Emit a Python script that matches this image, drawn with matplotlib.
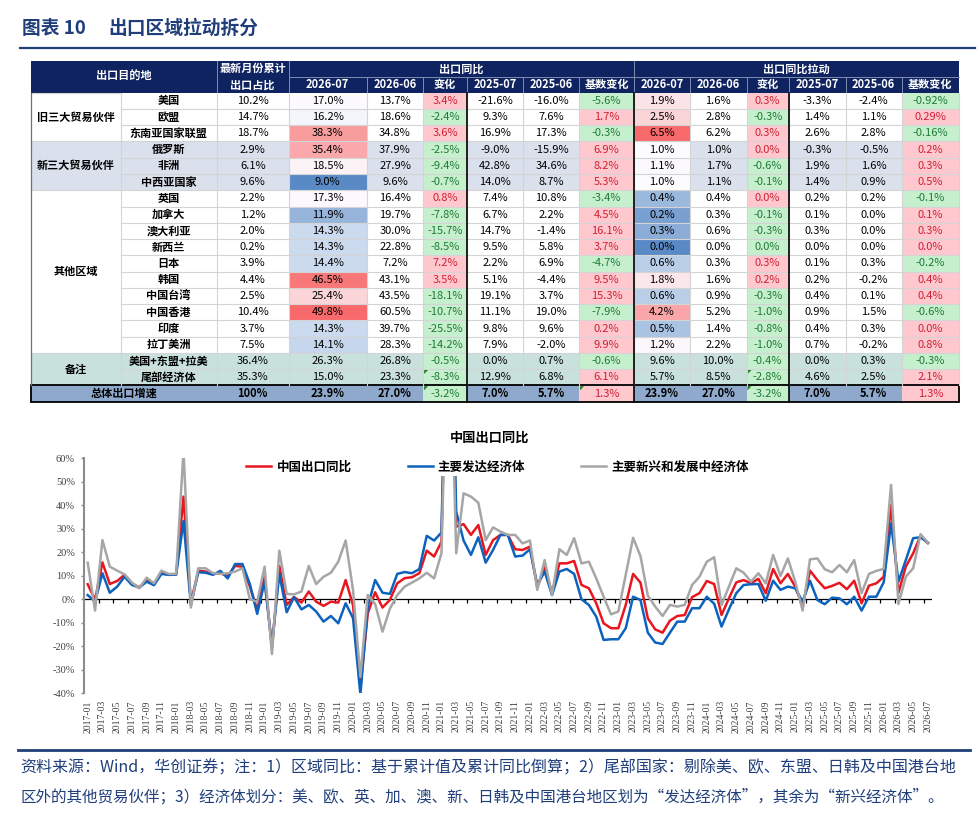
import numpy as np
import matplotlib.pyplot as plt
import matplotlib.colors as mcolors
from matplotlib.patches import Rectangle, Polygon

plt.rcParams['font.family'] = ['Noto Sans CJK SC', 'DejaVu Sans']
SERIF = ['Liberation Serif', 'Noto Sans CJK SC']

# ---------- 表格数据 ----------
group_names = ['旧三大贸易伙伴', '新三大贸易伙伴', '其他区域', '备注']
group_sizes = [3, 3, 10, 2]
countries = ['美国', '欧盟', '东南亚国家联盟', '俄罗斯', '非洲', '中西亚国家', '英国', '加拿大',
             '澳大利亚', '新西兰', '日本', '韩国', '中国台湾', '中国香港', '印度', '拉丁美洲',
             '美国+东盟+拉美', '尾部经济体']
share = ['10.2%', '14.7%', '18.7%', '2.9%', '6.1%', '9.6%', '2.2%', '1.2%', '2.0%', '0.2%',
         '3.9%', '4.4%', '2.5%', '10.4%', '3.7%', '7.5%', '36.4%', '35.3%']
yoy_2607 = ['17.0%', '16.2%', '38.3%', '35.4%', '18.5%', '9.0%', '17.3%', '11.9%', '14.3%', '14.3%',
            '14.4%', '46.5%', '25.4%', '49.8%', '14.3%', '14.1%', '26.3%', '15.0%']
yoy_2606 = ['13.7%', '18.6%', '34.8%', '37.9%', '27.9%', '9.6%', '16.4%', '19.7%', '30.0%', '22.8%',
            '7.2%', '43.1%', '43.5%', '60.5%', '39.7%', '28.3%', '26.8%', '23.3%']
yoy_chg = ['3.4%', '-2.4%', '3.6%', '-2.5%', '-9.4%', '-0.7%', '0.8%', '-7.8%', '-15.7%', '-8.5%',
           '7.2%', '3.5%', '-18.1%', '-10.7%', '-25.5%', '-14.2%', '-0.5%', '-8.3%']
yoy_2507 = ['-21.6%', '9.3%', '16.9%', '-9.0%', '42.8%', '14.0%', '7.4%', '6.7%', '14.7%', '9.5%',
            '2.2%', '5.1%', '19.1%', '11.1%', '9.8%', '7.9%', '0.0%', '12.9%']
yoy_2506 = ['-16.0%', '7.6%', '17.3%', '-15.9%', '34.6%', '8.7%', '10.8%', '2.2%', '-1.4%', '5.8%',
            '6.9%', '-4.4%', '3.7%', '19.0%', '9.6%', '-2.0%', '0.7%', '6.8%']
yoy_base = ['-5.6%', '1.7%', '-0.3%', '6.9%', '8.2%', '5.3%', '-3.4%', '4.5%', '16.1%', '3.7%',
            '-4.7%', '9.5%', '15.3%', '-7.9%', '0.2%', '9.9%', '-0.6%', '6.1%']
pull_2607 = ['1.9%', '2.5%', '6.5%', '1.0%', '1.1%', '1.0%', '0.4%', '0.2%', '0.3%', '0.0%',
             '0.6%', '1.8%', '0.6%', '4.2%', '0.5%', '1.2%', '9.6%', '5.7%']
pull_2606 = ['1.6%', '2.8%', '6.2%', '1.0%', '1.7%', '1.1%', '0.4%', '0.3%', '0.6%', '0.0%',
             '0.3%', '1.6%', '0.9%', '5.2%', '1.4%', '2.2%', '10.0%', '8.5%']
pull_chg = ['0.3%', '-0.3%', '0.3%', '0.0%', '-0.6%', '-0.1%', '0.0%', '-0.1%', '-0.3%', '0.0%',
            '0.3%', '0.2%', '-0.3%', '-1.0%', '-0.8%', '-1.0%', '-0.4%', '-2.8%']
pull_2507 = ['-3.3%', '1.4%', '2.6%', '-0.3%', '1.9%', '1.4%', '0.2%', '0.1%', '0.3%', '0.0%',
             '0.1%', '0.2%', '0.4%', '0.9%', '0.4%', '0.7%', '0.0%', '4.6%']
pull_2506 = ['-2.4%', '1.1%', '2.8%', '-0.5%', '1.6%', '0.9%', '0.2%', '0.0%', '0.0%', '0.0%',
             '0.3%', '-0.2%', '0.1%', '1.5%', '0.3%', '-0.2%', '0.3%', '2.5%']
pull_base = ['-0.92%', '0.29%', '-0.16%', '0.2%', '0.3%', '0.5%', '-0.1%', '0.1%', '0.3%', '0.0%',
             '-0.2%', '0.4%', '0.4%', '-0.6%', '0.0%', '0.8%', '-0.3%', '2.1%']
total_label = '总体出口增速'
total_vals = ['100%', '23.9%', '27.0%', '-3.2%', '7.0%', '5.7%', '1.3%',
              '23.9%', '27.0%', '-3.2%', '7.0%', '5.7%', '1.3%']
# 显示为0.0%但实际为负（绿色）的单元格
green_zero = [('新西兰', 11)]
# 左上角有绿色小三角的单元格 (行, 列)
flag_cells = [(17, 5), (17, 11), (18, 5), (18, 8), (18, 11)]

head_sub = ['2026-07', '2026-06', '变化', '2025-07', '2025-06', '基数变化']

# ---------- 折线数据 (%) ----------
months = [f'{y}-{m:02d}' for y in range(2017, 2027) for m in range(1, 13)][:115]
china_yoy = [6.4, -0.2, 15.7, 6.5, 7.8, 10.4, 6.8, 5.0, 8.2, 6.4, 11.3, 10.5,
             10.6, 43.7, -1.5, 12.2, 11.8, 10.8, 11.1, 9.9, 14.2, 13.9, 5.5, -4.5,
             9.6, -20.8, 14.2, -2.4, 1.0, -1.4, 3.3, -1.0, -2.8, -1.0, -1.4, 8.2,
             -2.5, -37.5, -6.0, 3.0, -3.5, -0.3, 6.8, 9.0, 9.4, 11.1, 20.7, 18.2,
             24.5, 155.0, 30.9, 32.0, 27.4, 31.6, 18.9, 25.2, 27.4, 27.4, 21.3, 21.0,
             22.4, 5.1, 13.6, 2.6, 15.3, 15.3, 16.3, 6.1, 4.7, -1.7, -10.2, -12.3,
             -12.3, -2.4, 10.8, 7.1, -8.1, -12.8, -14.2, -9.1, -7.1, -6.7, 0.9, 2.6,
             7.8, 6.5, -6.7, 0.4, 7.2, 8.2, 6.8, 8.7, 2.6, 12.9, 6.8, 10.8,
             5.4, -3.1, 12.2, 8.2, 4.7, 5.7, 7.0, 4.3, 7.9, -1.7, 5.8, 6.8,
             9.6, 40.1, 2.8, 13.9, 19.6, 27.0, 23.9]
developed_yoy = [1.8, -1.0, 11.1, 2.8, 5.4, 9.6, 6.1, 5.0, 7.5, 6.0, 10.8, 10.4,
                 10.5, 33.3, -2.5, 11.5, 11.3, 10.4, 12.1, 8.9, 15.0, 15.0, 6.5, -6.2,
                 7.5, -19.5, 10.8, -5.5, 0.9, -4.3, -2.4, -5.2, -9.5, -7.1, -10.2, -1.7,
                 -8.0, -40.5, -3.0, 8.2, 2.8, 2.3, 10.8, 11.6, 11.1, 12.9, 27.0, 25.0,
                 28.4, 165.0, 37.3, 25.0, 18.9, 26.4, 15.6, 21.0, 27.4, 27.4, 18.2, 18.6,
                 21.3, 6.1, 11.8, 1.8, 11.8, 12.9, 10.8, 0.0, -2.4, -7.4, -17.3, -17.0,
                 -17.0, -12.3, 1.1, -0.3, -14.2, -18.4, -19.0, -14.2, -9.5, -9.5, -3.8, -3.8,
                 1.1, -1.9, -11.6, -4.3, 2.6, 6.1, 6.4, 6.5, -0.6, 7.9, 4.0, 5.4,
                 4.7, -1.0, 7.9, -0.3, -2.1, 0.7, 0.4, -2.1, 1.1, -4.8, 1.1, 1.1,
                 7.2, 32.3, 7.5, 16.7, 26.0, 26.4, 24.1]
emerging_yoy = [15.6, -4.8, 25.2, 13.9, 12.2, 10.6, 7.1, 4.7, 9.2, 6.8, 12.2, 10.8,
                10.8, 63.0, -3.5, 13.2, 13.2, 11.1, 10.8, 11.1, 11.8, 13.2, 0.0, -1.0,
                13.9, -23.3, 20.7, 2.3, 2.1, 3.3, 14.2, 6.5, 9.6, 11.3, 16.0, 25.0,
                4.0, -33.0, 1.8, -2.0, -13.8, -4.0, 1.8, 5.4, 7.1, 8.9, 11.3, 8.9,
                19.6, 140.0, 19.6, 45.1, 43.7, 41.1, 25.2, 30.6, 28.8, 27.4, 27.4, 23.8,
                25.0, 4.0, 16.7, 1.8, 21.3, 18.9, 26.0, 15.3, 16.0, 8.9, 1.1, -6.4,
                -5.2, 10.4, 26.2, 18.4, 1.6, -3.1, -7.1, -2.4, -3.1, -2.4, 6.1, 9.6,
                16.0, 17.9, -2.4, 5.4, 13.2, 11.3, 7.5, 11.1, 6.8, 18.9, 9.9, 17.4,
                7.5, -4.8, 17.0, 17.4, 12.8, 11.5, 14.6, 11.5, 16.7, 2.6, 10.8, 12.1,
                12.9, 48.7, -2.0, 9.6, 13.2, 27.7, 24.1]

NAVY = '#1F3E7A'
HEAD = '#0E2360'
PINK, PINK_TXT = '#FFC7CE', '#CC2233'
GREEN, GREEN_TXT = '#C6EFCE', '#1E7B34'


def pct(s):
    return float(s.strip('%'))


heat_cmap = mcolors.LinearSegmentedColormap.from_list('xl3', ['#5A8AC6', '#FCFCFF', '#F8696B'])


def heat_colors(col):
    v = np.array([pct(s) for s in col])
    norm = mcolors.TwoSlopeNorm(vmin=v.min(), vcenter=np.median(v), vmax=v.max())
    return [heat_cmap(norm(t)) for t in v]


fig = plt.figure(figsize=(9.8, 8.15), dpi=100)
bg = fig.add_axes([0, 0, 1, 1])
bg.set_xlim(0, 980)
bg.set_ylim(815, 0)
bg.axis('off')

# 标题
bg.text(22, 28, '图表 10', fontsize=13.5, fontweight='bold', color=NAVY, va='center')
bg.text(108, 28, '出口区域拉动拆分', fontsize=13.5, fontweight='bold', color=NAVY, va='center')
bg.plot([20, 975], [47.5, 47.5], color=NAVY, lw=1.6)

# ---------- 表格 ----------
xe = [30.7, 120.7, 216.7, 288.7, 366.7, 423.3, 466.7, 523.3, 579.3, 634, 690, 746.7, 788.7,
      845.7, 901.7, 959]
y_top, y_mid, y_body = 60.7, 76.7, 92.7
rh = (401.7 - y_body) / 19
fs = 8

cols = [share, yoy_2607, yoy_2606, yoy_chg, yoy_2507, yoy_2506, yoy_base,
        pull_2607, pull_2606, pull_chg, pull_2507, pull_2506, pull_base]
diff_cols = [5, 8, 11, 14]
heat = {3: heat_colors(yoy_2607[:16]), 9: heat_colors(pull_2607[:16])}

# 表头
bg.add_patch(Rectangle((xe[0], y_top), xe[-1] - xe[0], y_body - y_top, color=HEAD, lw=0))
sep = '#7D8DB0'
for c in [2, 3, 9]:
    bg.plot([xe[c], xe[c]], [y_top, y_body], color=sep, lw=0.7)
for c in list(range(4, 9)) + list(range(10, 15)):
    bg.plot([xe[c], xe[c]], [y_mid, y_body], color=sep, lw=0.7)
bg.plot([xe[3], xe[-1]], [y_mid, y_mid], color=sep, lw=0.7)
hk = dict(color='white', fontsize=fs, fontweight='bold', ha='center', va='center')
bg.text((xe[0] + xe[2]) / 2, y_mid, '出口目的地', **hk)
bg.text((xe[2] + xe[3]) / 2, (y_top + y_mid) / 2, '最新月份累计', **hk)
bg.text((xe[2] + xe[3]) / 2, (y_mid + y_body) / 2, '出口占比', **hk)
bg.text((xe[3] + xe[9]) / 2, (y_top + y_mid) / 2, '出口同比', **hk)
bg.text((xe[9] + xe[15]) / 2, (y_top + y_mid) / 2, '出口同比拉动', **hk)
for k, lab in enumerate(head_sub * 2):
    c = 3 + k
    bg.text((xe[c] + xe[c + 1]) / 2, (y_mid + y_body) / 2, lab, **hk)

# 行底色
band = {1: '#DAE1ED', 3: '#C9E1DC'}
row_group = np.repeat(np.arange(len(group_sizes)), group_sizes)
for r in range(18):
    fc = band.get(row_group[r], 'white')
    bg.add_patch(Rectangle((xe[0], y_body + r * rh), xe[-1] - xe[0], rh, color=fc, lw=0))
y_tot = y_body + 18 * rh
bg.add_patch(Rectangle((xe[0], y_tot), xe[-1] - xe[0], rh, color='#8EA9CB', lw=0))

# 单元格
for r in range(18):
    y0 = y_body + r * rh
    yc = y0 + rh / 2
    bg.text((xe[1] + xe[2]) / 2, yc, countries[r], fontsize=fs, fontweight='bold',
            ha='center', va='center')
    for k, col in enumerate(cols):
        c = k + 2
        s = col[r]
        tc = 'black'
        if c in diff_cols:
            neg = s.startswith('-') or (countries[r], c) in green_zero
            bg.add_patch(Rectangle((xe[c], y0), xe[c + 1] - xe[c], rh,
                                   color=GREEN if neg else PINK, lw=0))
            tc = GREEN_TXT if neg else PINK_TXT
        elif c in heat and r < 16:
            bg.add_patch(Rectangle((xe[c], y0), xe[c + 1] - xe[c], rh, color=heat[c][r], lw=0))
        bg.text((xe[c] + xe[c + 1]) / 2, yc, s, fontsize=fs, color=tc, ha='center', va='center')

# 合计行
yc = y_tot + rh / 2
bg.text((xe[0] + xe[2]) / 2, yc, total_label, fontsize=fs, fontweight='bold', ha='center', va='center')
for k, s in enumerate(total_vals):
    c = k + 2
    if c in diff_cols:
        neg = s.startswith('-')
        bg.add_patch(Rectangle((xe[c], y_tot), xe[c + 1] - xe[c], rh,
                               color=GREEN if neg else PINK, lw=0))
        bg.text((xe[c] + xe[c + 1]) / 2, yc, s, fontsize=fs, color=GREEN_TXT if neg else PINK_TXT,
                ha='center', va='center')
    else:
        bg.text((xe[c] + xe[c + 1]) / 2, yc, s, fontsize=fs, fontweight='bold',
                ha='center', va='center')

# 分组合并单元格
grid = '#D4D4D4'
start = 0
for name, n in zip(group_names, group_sizes):
    bg.text((xe[0] + xe[1]) / 2, y_body + (start + n / 2) * rh, name, fontsize=fs,
            fontweight='bold', ha='center', va='center')
    bg.plot([xe[0], xe[1]], [y_body + start * rh] * 2, color=grid, lw=0.8)
    start += n

# 网格线
for r in range(1, 18):
    bg.plot([xe[1], xe[-1]], [y_body + r * rh] * 2, color=grid, lw=0.8)
for c in range(1, 16):
    bg.plot([xe[c], xe[c]], [y_body, y_tot], color=grid, lw=0.8)
bg.plot([xe[0], xe[0]], [y_body, y_tot], color='#707070', lw=0.9)
for c in [6, 9, 12]:
    bg.plot([xe[c], xe[c]], [y_body, y_tot + rh], color='black', lw=1.2)
bg.add_patch(Rectangle((xe[0], y_tot), xe[-1] - xe[0], rh, fill=False, ec='black', lw=1.3))

for r, c in flag_cells:
    x0, y0 = xe[c] + 0.8, y_body + r * rh + 0.8
    bg.add_patch(Polygon([(x0, y0), (x0 + 4, y0), (x0, y0 + 4)], color='#1E7B1E', lw=0))

# ---------- 折线图 ----------
bg.text(490, 438, '中国出口同比', fontsize=9.5, fontweight='bold', ha='center', va='center')

ax = fig.add_axes([84 / 980, 1 - 693.3 / 815, (931.6 - 84) / 980, 235 / 815])
ax.patch.set_alpha(0)
x = np.arange(len(months))
ax.axhline(0, color='black', lw=0.9, zorder=1)
ax.vlines(np.arange(1.5, len(x) - 1, 2), -1.5, 0, color='black', lw=0.9, zorder=1)
ax.plot(x, china_yoy, color='#E8161F', lw=1.8, label='中国出口同比', zorder=3)
ax.plot(x, developed_yoy, color='#0C63BE', lw=1.8, label='主要发达经济体', zorder=4)
ax.plot(x, emerging_yoy, color='#A6A6A6', lw=1.8, label='主要新兴和发展中经济体', zorder=5)
ax.set_xlim(-0.5, len(x) - 0.5)
ax.set_ylim(-40, 60)
ax.set_yticks(np.arange(-40, 61, 10))
ax.yaxis.set_major_formatter(lambda v, p: f'{v:.0f}%')
ax.set_xticks(x[::2])
ax.set_xticklabels(months[::2], rotation=90)
ax.tick_params(axis='x', length=0, pad=5, labelsize=7, labelcolor='#404040')
ax.tick_params(axis='y', direction='out', length=2.5, width=1, color='#8C8C8C', pad=4,
               labelsize=7.5, labelcolor='#404040')
for lab in ax.get_xticklabels() + ax.get_yticklabels():
    lab.set_family(SERIF)
for s in ['top', 'right', 'bottom']:
    ax.spines[s].set_visible(False)
ax.spines['left'].set_color('#8C8C8C')
ax.spines['left'].set_linewidth(1.5)
leg = ax.legend(loc='center', bbox_to_anchor=(0.488, 0.963), ncol=3, frameon=True,
                prop=dict(size=9, weight='bold'), handlelength=2.0, handletextpad=0.4,
                columnspacing=4.5, borderpad=0.2, framealpha=1, fancybox=False)
leg.get_frame().set_facecolor('white')
leg.get_frame().set_linewidth(0)
leg.set_zorder(10)

# ---------- 资料来源 ----------
bg.plot([18, 970], [750, 750], color=NAVY, lw=2.0)
note1 = ('资料来源：Wind，华创证券；注：1）区域同比：基于累计值及累计同比倒算；'
         '2）尾部国家：剔除美、欧、东盟、日韩及中国港台地')
note2 = ('区外的其他贸易伙伴；3）经济体划分：美、欧、英、加、澳、新、日韩及中国港台地区划为'
         '“发达经济体”，其余为“新兴经济体”。')
bg.text(20, 768, note1, fontsize=11.5, color=NAVY, va='center')
bg.text(20, 797, note2, fontsize=11.2, color=NAVY, va='center')

fig.savefig('out.png', dpi=100)
